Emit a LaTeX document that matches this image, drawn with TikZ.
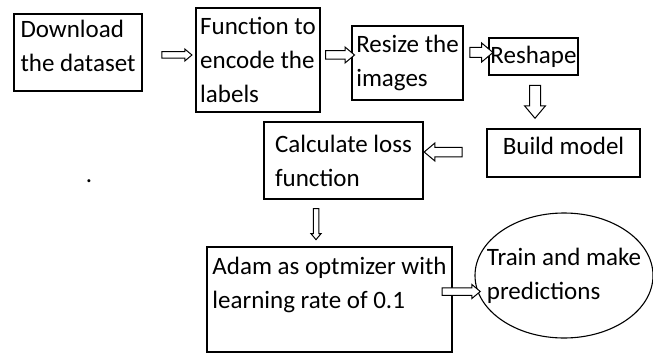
\documentclass[tikz,border=0pt]{standalone}
\usepackage{fontspec}
\setmainfont{Carlito}
\usetikzlibrary{shapes.geometric,shapes.arrows}

\begin{document}
\begin{tikzpicture}[x=1pt, y=-1pt, font=\fontsize{25}{34}\selectfont]
        \useasboundingbox (0,0) rectangle (653,353);
        \begin{scope}[every node/.style={draw, line width=1.1pt, align=left, inner xsep=1pt, inner ysep=0pt}]
            \node[minimum width=128pt, minimum height=77pt, text depth=14pt] (dl) at (78, 52.5) {Download\\the dataset};
            \node[minimum width=124pt, minimum height=104pt] (enc) at (258, 60) {Function to\\encode the\\labels};
            \node[minimum width=111pt, minimum height=74pt] (rsz) at (407.5, 63) {Resize the\\images};
            \node[minimum width=89pt, minimum height=37pt] (rsh) at (533.5, 56.5) {Reshape};
            \node[minimum width=153pt, minimum height=48pt, text depth=14pt] (bld) at (563.5, 153) {Build model};
            \node[minimum width=159pt, minimum height=77pt] (loss) at (343.5, 160.5) {Calculate loss\\function};
            \node[minimum width=245pt, minimum height=105pt, text depth=34pt] (adam) at (329.5, 299.5) {Adam as optmizer with\\learning rate of 0.1};
            \node[ellipse, inner xsep=-20pt, minimum width=178pt, minimum height=125pt] (trn) at (564, 275.5) {Train and make\\predictions};
        \end{scope}
        \begin{scope}[every node/.style={draw, fill=white, line width=1pt, single arrow, inner xsep=0pt, single arrow tip angle=80}]
            \node[minimum height=30pt, inner ysep=2.75pt, single arrow head extend=2.75pt] (a1) at (175, 55) {};
            \node[minimum height=29pt, inner ysep=3.75pt, single arrow head extend=3.75pt] (a2) at (337.5, 55) {};
            \node[minimum height=23pt, inner ysep=4.5pt, single arrow head extend=4.5pt] (a3) at (478.5, 52.5) {};
            \node[rotate=-90, minimum height=33pt, inner ysep=5pt, single arrow head extend=5pt] (a4) at (535, 98.5) {};
            \node[rotate=180, minimum height=38pt, inner ysep=4.25pt, single arrow head extend=4.25pt] (a5) at (446, 152) {};
            \node[rotate=-90, minimum height=31pt, inner ysep=2.25pt, single arrow head extend=2.25pt] (a6) at (316, 222.5) {};
            \node[minimum height=38pt, inner ysep=3.25pt, single arrow head extend=3.25pt] (a7) at (459, 291.5) {};
        \end{scope}
        \node[inner sep=0pt] (dot) at (89, 181) {.};
    \end{tikzpicture}
\end{document}
